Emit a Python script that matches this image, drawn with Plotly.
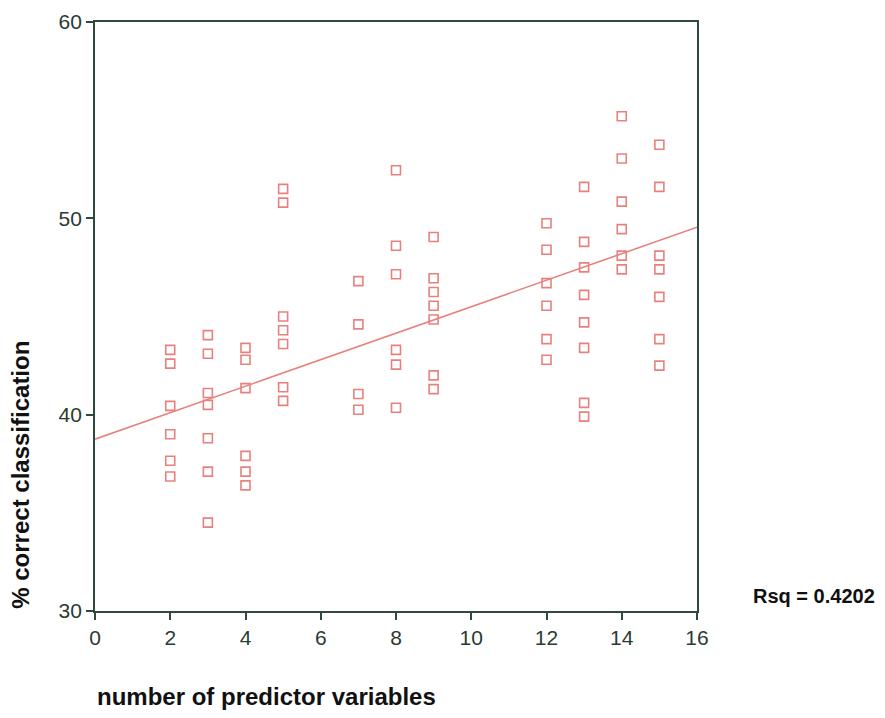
import plotly.graph_objects as go

# Data
n_predictors = [2]*6 + [3]*7 + [4]*6 + [5]*7 + [7]*4 + [8]*6 + [9]*7 + [12]*6 + [13]*8 + [14]*6 + [15]*7
pct_correct = (
    [43.3, 42.6, 40.45, 39.0, 37.65, 36.85]
    + [44.05, 43.1, 41.1, 40.5, 38.8, 37.1, 34.5]
    + [43.4, 42.8, 41.35, 37.9, 37.1, 36.4]
    + [51.5, 50.8, 45.0, 44.3, 43.6, 41.4, 40.7]
    + [46.8, 44.6, 41.05, 40.25]
    + [52.45, 48.6, 47.15, 43.3, 42.55, 40.35]
    + [49.05, 46.95, 46.25, 45.55, 44.85, 42.0, 41.3]
    + [49.75, 48.4, 46.7, 45.55, 43.85, 42.8]
    + [51.6, 48.8, 47.5, 46.1, 44.7, 43.4, 40.6, 39.9]
    + [55.2, 53.05, 50.85, 49.45, 48.1, 47.4]
    + [53.75, 51.6, 48.1, 47.4, 46.0, 43.85, 42.5]
)
fit_intercept = 38.75
fit_slope = 0.675
fit_x = [0, 16]
fit_y = [fit_intercept + fit_slope * v for v in fit_x]
x_ticks = [0, 2, 4, 6, 8, 10, 12, 14, 16]
y_ticks = [30, 40, 50, 60]
rsq_label = "Rsq = 0.4202"

pink = "#E8817E"
axis_col = "#2E4A3C"
tick_col = "#2B3A33"

fig = go.Figure()
fig.add_trace(go.Scatter(x=fit_x, y=fit_y, mode="lines",
                         line=dict(color=pink, width=1.6), hoverinfo="skip"))
fig.add_trace(go.Scatter(x=n_predictors, y=pct_correct, mode="markers",
                         marker=dict(symbol="square-open", size=9, color=pink,
                                     line=dict(width=1.6, color=pink))))

fig.update_layout(
    width=885, height=718,
    margin=dict(l=95, r=188, t=10, b=107),
    paper_bgcolor="white", plot_bgcolor="white",
    showlegend=False,
    font=dict(family="Liberation Sans, Arial, sans-serif", color="#222"),
)
fig.update_xaxes(range=[0, 16], tickvals=x_ticks, ticks="outside", ticklen=7,
                 tickcolor=axis_col, tickwidth=1.5,
                 showline=True, linecolor=axis_col, linewidth=1.8, mirror=True,
                 showgrid=False, zeroline=False,
                 tickfont=dict(size=21, color=tick_col))
fig.update_yaxes(range=[30, 60], tickvals=y_ticks, ticks="outside", ticklen=7,
                 tickcolor=axis_col, tickwidth=1.5,
                 showline=True, linecolor=axis_col, linewidth=1.8, mirror=True,
                 showgrid=False, zeroline=False,
                 tickfont=dict(size=21, color=tick_col))

fig.add_annotation(text="<b>number of predictor variables</b>", xref="paper", yref="paper",
                   x=0, y=-0.145, xanchor="left", yanchor="middle", showarrow=False,
                   font=dict(size=24, color="#111"))
fig.add_annotation(text="<b>% correct classification</b>", xref="paper", yref="paper",
                   x=-0.125, y=0.0, xanchor="center", yanchor="bottom", textangle=-90,
                   showarrow=False, font=dict(size=24, color="#111"))
fig.add_annotation(text="<b>" + rsq_label + "</b>", xref="paper", yref="paper",
                   x=1.09, y=0.025, xanchor="left", yanchor="middle", showarrow=False,
                   font=dict(size=20, color="#111"))

fig.write_html("out.html", config={"displayModeBar": False},
               post_script="document.body.style.margin='0';document.body.style.overflow='hidden';")
